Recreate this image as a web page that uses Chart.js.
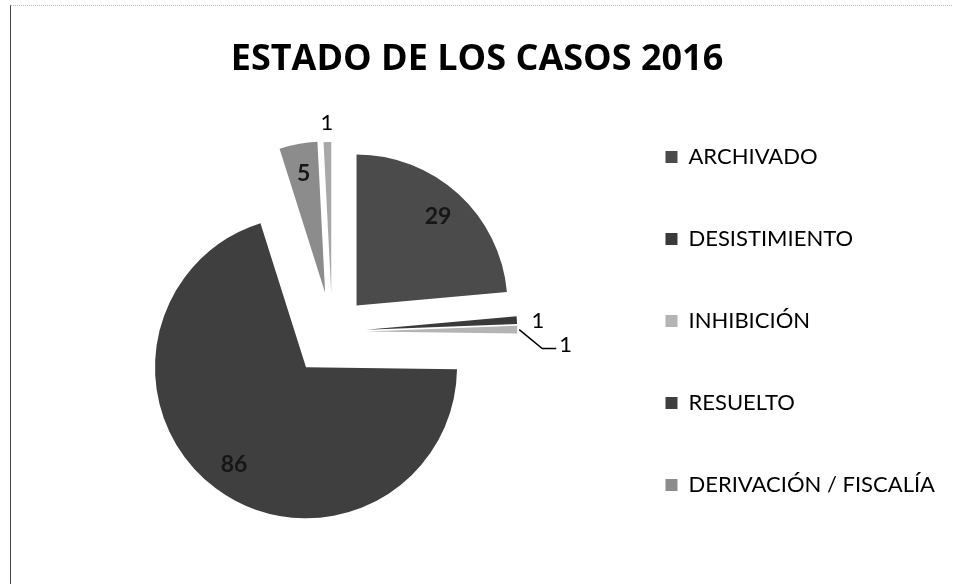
<!DOCTYPE html>
<html>
<head>
<meta charset="utf-8">
<title>Estado de los casos 2016</title>
<script src="https://cdn.jsdelivr.net/npm/chart.js@4.4.1/dist/chart.umd.min.js"></script>
<style>
  html, body { margin: 0; padding: 0; background: #fff; }
  #wrap { position: relative; width: 953px; height: 584px; }
  #frame {
    position: absolute; left: 10px; top: 5px; width: 943px; height: 579px;
    border-left: 1px solid #444; border-top: 1px dotted #bbb;
    pointer-events: none;
  }
</style>
</head>
<body>
<div id="wrap">
  <canvas id="casosChart" width="953" height="584"></canvas>
  <div id="frame"></div>
</div>
<script>
// datos
const categories = ['ARCHIVADO', 'DESISTIMIENTO', 'INHIBICIÓN', 'RESUELTO', 'DERIVACIÓN / FISCALÍA', '']
const casos = [29, 1, 1, 86, 5, 1]
const chartTitle = 'ESTADO DE LOS CASOS 2016'

const sliceColors = ['#4b4b4b', '#3a3a3a', '#b4b4b4', '#3f3f3f', '#8c8c8c', '#a8a8a8']

// separa las porciones (el offset de Chart.js deforma las porciones chicas)
// y dibuja las etiquetas de datos
const explodedPie = {
    id: 'explodedPie',
    afterDatasetUpdate(chart, args, opts) {
        args.meta.data.forEach((arc, i) => {
            const mid = (arc.startAngle + arc.endAngle) / 2
            const d = opts.explode[i] || 0
            arc.x += Math.cos(mid) * d
            arc.y += Math.sin(mid) * d
        })
    },
    afterDatasetsDraw(chart, args, opts) {
        const ctx = chart.ctx
        const meta = chart.getDatasetMeta(0)
        const values = chart.data.datasets[0].data
        meta.data.forEach((arc, i) => {
            const p = arc.getProps(['x', 'y', 'startAngle', 'endAngle', 'outerRadius'], true)
            const mid = (p.startAngle + p.endAngle) / 2
            const cos = Math.cos(mid), sin = Math.sin(mid)
            const r = p.outerRadius
            ctx.save()
            ctx.textBaseline = 'middle'
            if (values[i] >= 5) {
                ctx.font = 'bold 23px Lato'
                ctx.fillStyle = '#161616'
                ctx.textAlign = 'center'
                ctx.fillText(values[i], p.x + cos * r * 0.8, p.y + sin * r * 0.8)
            } else if (opts.leader.includes(i)) {
                const tx = p.x + cos * (r + 2), ty = p.y + sin * (r + 2)
                ctx.strokeStyle = '#000'
                ctx.lineWidth = 1.5
                ctx.beginPath()
                ctx.moveTo(tx, ty)
                ctx.lineTo(tx + 23, ty + 19)
                ctx.lineTo(tx + 37, ty + 19)
                ctx.stroke()
                ctx.font = '22px Lato'
                ctx.fillStyle = '#000'
                ctx.textAlign = 'left'
                ctx.fillText(values[i], tx + 40, ty + 15)
            } else {
                ctx.font = '22px Lato'
                ctx.fillStyle = '#000'
                ctx.textAlign = 'center'
                ctx.fillText(values[i], p.x + cos * (r + 21), p.y + sin * (r + 21) + 2)
            }
            ctx.restore()
        })
    }
}

const ctx = document.getElementById('casosChart').getContext('2d')

new Chart(ctx, {
    type: 'pie',
    data: {
        labels: categories,
        datasets: [{
            data: casos,
            backgroundColor: sliceColors,
            borderWidth: 0,
            radius: 151,
        }]
    },
    options: {
        responsive: false,
        devicePixelRatio: 1,
        animation: false,
        radius: 151,
        layout: {
            padding: { left: 9, right: 8, top: 0, bottom: 6 }
        },
        plugins: {
            title: {
                display: true,
                text: chartTitle,
                color: '#000',
                font: { family: 'Open Sans', weight: 'bold', size: 36, lineHeight: 1.2 },
                padding: { top: 38.4, bottom: 4.4 }
            },
            // caja vacia a la izquierda para correr el pastel
            subtitle: {
                display: true,
                position: 'left',
                fullSize: false,
                text: ' ',
                font: { size: 30, lineHeight: 1.2 },
                padding: { top: 7, bottom: 7 }
            },
            legend: {
                position: 'right',
                align: 'start',
                fullSize: false,
                maxWidth: 420,
                labels: {
                    color: '#000',
                    boxWidth: 12,
                    boxHeight: 12,
                    padding: 60,
                    font: { family: 'Lato', size: 22 },
                    filter: (item) => item.text !== ''
                }
            },
            tooltip: { enabled: false },
            explodedPie: { explode: [36, 34, 34, 44, 40, 39], leader: [2] }
        }
    },
    plugins: [explodedPie]
})
</script>
</body>
</html>
